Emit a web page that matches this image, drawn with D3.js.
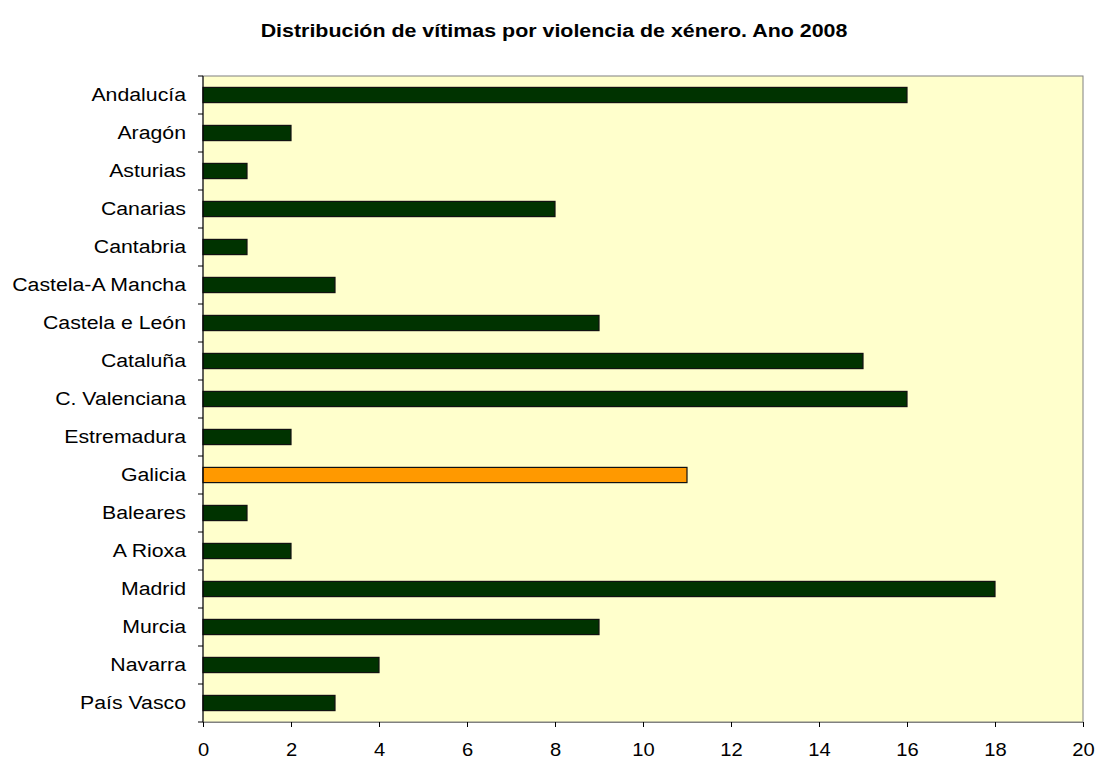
<!DOCTYPE html>
<html><head><meta charset="utf-8">
<script src="https://cdn.jsdelivr.net/npm/d3@7"></script>
<style>body{margin:0;background:#fff;font-family:"Liberation Sans",Arial,sans-serif}</style>
</head><body>
<svg id="chart" width="1098" height="763"></svg>
<script>
const categories = ["Andalucía","Aragón","Asturias","Canarias","Cantabria","Castela-A Mancha","Castela e León","Cataluña","C. Valenciana","Estremadura","Galicia","Baleares","A Rioxa","Madrid","Murcia","Navarra","País Vasco"];
const values = [16,2,1,8,1,3,9,15,16,2,11,1,2,18,9,4,3];
const highlight = "Galicia";
const xTicks = [0,2,4,6,8,10,12,14,16,18,20];
const title = "Distribución de vítimas por violencia de xénero. Ano 2008";

const svg = d3.select("#chart");
const m = {left:203, top:76, right:1083, bottom:722};
const x = d3.scaleLinear().domain([0,20]).range([m.left, m.right]);
const y = d3.scaleBand().domain(categories).range([m.top, m.bottom]).paddingInner(0.6).paddingOuter(0.3);
const yb = d3.scaleBand().domain(categories).range([m.top, m.bottom]);

svg.append("rect").attr("x",m.left).attr("y",m.top).attr("width",m.right-m.left).attr("height",m.bottom-m.top)
  .attr("fill","#FFFFCC").attr("stroke","#808080").attr("stroke-width",1);

svg.append("text").attr("transform","translate(554,37) scale(1.19,1)").attr("text-anchor","middle")
  .attr("font-size",18).attr("font-weight","bold").attr("fill","#000").text(title);

svg.selectAll(".bar").data(categories).join("rect")
  .attr("x",x(0)).attr("y",(d)=>y(d)).attr("width",(d,i)=>x(values[i])-x(0)).attr("height",y.bandwidth())
  .attr("fill",d=>d===highlight?"#FF9900":"#003300").attr("stroke","#111").attr("stroke-width",1.2);

// y axis
const ya = svg.append("g").attr("transform",`translate(${m.left},0)`);
ya.append("line").attr("x1",0).attr("x2",0).attr("y1",m.top).attr("y2",m.bottom).attr("stroke","#000");
const bounds = categories.map(c=>yb(c)).concat([m.bottom]);
ya.selectAll(".tk").data(bounds).join("line").attr("x1",-5).attr("x2",0).attr("y1",d=>d).attr("y2",d=>d).attr("stroke","#000");
ya.selectAll(".lb").data(categories).join("text")
  .attr("transform",d=>`translate(-17,${yb(d)+yb.bandwidth()/2 - 0.5}) scale(1.12,1)`)
  .attr("text-anchor","end").attr("dy","0.35em").attr("font-size",19).attr("fill","#000").text(d=>d);

// x axis
const xa = svg.append("g").attr("transform",`translate(0,${m.bottom})`)
  .call(d3.axisBottom(x).tickValues(xTicks).tickSize(5).tickPadding(16).tickFormat(d3.format("d")));
xa.select(".domain").attr("stroke","#808080");
xa.selectAll(".tick line").attr("stroke","#000");
xa.selectAll(".tick text").attr("font-size",18).attr("font-family","Liberation Sans, Arial, sans-serif").attr("fill","#000")
  .attr("transform","scale(1.12,1)");
</script>
</body></html>
